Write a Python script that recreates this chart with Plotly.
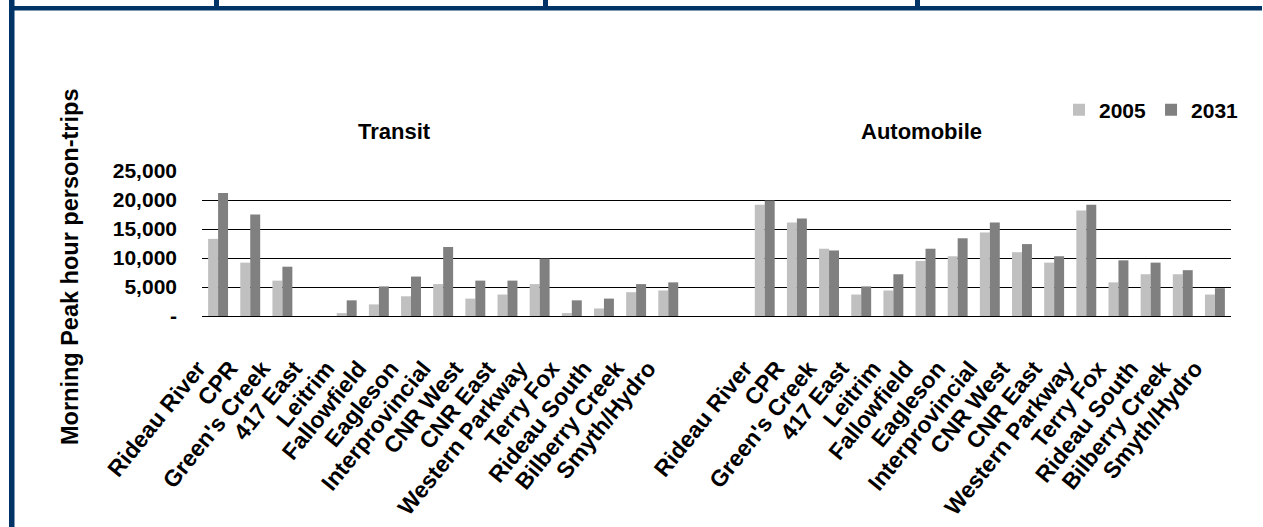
import plotly.graph_objects as go

# ---- data ----
screenlines = ["Rideau River", "CPR", "Green's Creek", "417 East", "Leitrim", "Fallowfield",
               "Eagleson", "Interprovincial", "CNR West", "CNR East", "Western Parkway",
               "Terry Fox", "Rideau South", "Bilberry Creek", "Smyth/Hydro"]
transit_2005 = [13300, 9200, 6100, 0, 500, 2000, 3400, 5500, 3000, 3700, 5500, 500, 1300, 4100, 4400]
transit_2031 = [21200, 17500, 8500, 0, 2700, 5100, 6800, 11900, 6100, 6100, 9900, 2700, 3000, 5500, 5800]
auto_2005 = [19200, 16100, 11600, 3700, 4400, 9500, 10300, 14400, 11000, 9200, 18200, 5800, 7200, 7200, 3700]
auto_2031 = [19900, 16800, 11300, 5100, 7200, 11600, 13400, 16100, 12400, 10300, 19200, 9600, 9200, 7900, 4800]
series_names = ["2005", "2031"]
group_titles = ["Transit", "Automobile"]
ytick_vals = [0, 5000, 10000, 15000, 20000, 25000]
ytick_text = ["-", "5,000", "10,000", "15,000", "20,000", "25,000"]
y_title = "Morning Peak hour person-trips"

# ---- layout helpers ----
W, H = 1263, 527
L, R, T, B = 202, 32, 171, 211
n = len(screenlines)
gap_slots = 2
x_transit = list(range(n))
x_auto = [i + n + gap_slots for i in range(n)]
x_all = x_transit + x_auto
labels_all = [s + "\u00a0" * 5 for s in screenlines + screenlines]


def px2x(px):
    return (px - L) / (W - L - R)


def px2y(py):
    return (H - B - py) / (H - T - B)


FONT = "Liberation Sans, Arial, sans-serif"
NAVY = "#003366"

fig = go.Figure()
fig.add_trace(go.Bar(x=x_all, y=transit_2005 + auto_2005, name=series_names[0],
                     marker=dict(color="#C0C0C0", line=dict(width=0))))
fig.add_trace(go.Bar(x=x_all, y=transit_2031 + auto_2031, name=series_names[1],
                     marker=dict(color="#808080", line=dict(width=0))))

fig.update_layout(
    width=W, height=H,
    margin=dict(l=L, r=R, t=T, b=B, pad=0, autoexpand=False),
    paper_bgcolor="white", plot_bgcolor="white",
    barmode="group", bargap=0.38, bargroupgap=0,
    font=dict(family=FONT, color="black"),
    showlegend=True,
    legend=dict(orientation="h", x=px2x(1244), xanchor="right", y=px2y(110), yanchor="middle",
                font=dict(size=21, weight="bold", family=FONT), itemwidth=30,
                bgcolor="rgba(0,0,0,0)", traceorder="normal"),
    xaxis=dict(range=[-0.5, len(x_all) + gap_slots - 0.5], tickmode="array",
               tickvals=x_all, ticktext=labels_all, tickangle=-51, automargin=False,
               tickfont=dict(size=23, weight="bold", family=FONT),
               showgrid=False, showline=True, linecolor="black", linewidth=1,
               ticks="", zeroline=False, ticklabelstandoff=4),
    yaxis=dict(range=[0, 25000], tickmode="array", tickvals=ytick_vals, ticktext=ytick_text,
               automargin=False,
               tickfont=dict(size=21, weight="bold", family=FONT),
               showgrid=True, gridcolor="black", gridwidth=1,
               zeroline=False, showline=False, ticks="", ticklabelstandoff=24),
)

annotations = [
    dict(text=y_title, x=px2x(70), y=px2y(267), xref="paper", yref="paper", textangle=-90,
         showarrow=False, font=dict(size=23.5, weight="bold", family=FONT),
         xanchor="center", yanchor="middle"),
    dict(text=group_titles[0], x=px2x(394), y=px2y(131), xref="paper", yref="paper",
         showarrow=False, font=dict(size=22, weight="bold", family=FONT),
         xanchor="center", yanchor="middle"),
    dict(text=group_titles[1], x=px2x(921), y=px2y(131), xref="paper", yref="paper",
         showarrow=False, font=dict(size=22, weight="bold", family=FONT),
         xanchor="center", yanchor="middle"),
]
fig.update_layout(annotations=annotations)

# page frame (navy border lines of the surrounding document)
shapes = [
    dict(type="rect", xref="paper", yref="paper", x0=px2x(9), x1=px2x(1262), y0=px2y(10.5), y1=px2y(6),
         fillcolor=NAVY, line=dict(width=0), layer="above"),
    dict(type="rect", xref="paper", yref="paper", x0=px2x(9), x1=px2x(14.5), y0=px2y(527), y1=px2y(0),
         fillcolor=NAVY, line=dict(width=0), layer="above"),
]
for sx in [214, 543, 915]:
    shapes.append(dict(type="rect", xref="paper", yref="paper", x0=px2x(sx), x1=px2x(sx + 5),
                       y0=px2y(7), y1=px2y(0), fillcolor=NAVY, line=dict(width=0), layer="above"))
fig.update_layout(shapes=shapes)

fig.write_html("out.html")
